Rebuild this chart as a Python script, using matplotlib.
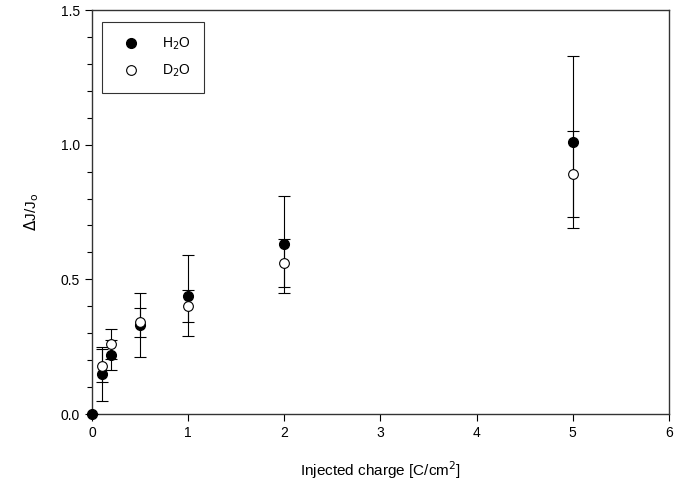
import matplotlib.pyplot as plt
from matplotlib.lines import Line2D
from matplotlib.ticker import MultipleLocator

plt.rcParams['font.family'] = ['Liberation Sans', 'DejaVu Sans']

# charge [C/cm2]
x_h2o = [0, 0.1, 0.2, 0.5, 1, 2, 5]
y_h2o = [0.0, 0.15, 0.22, 0.33, 0.44, 0.63, 1.01]
err_h2o = [0.0, 0.10, 0.055, 0.12, 0.15, 0.18, 0.32]

x_d2o = [0.1, 0.2, 0.5, 1, 2, 5]
y_d2o = [0.18, 0.26, 0.34, 0.40, 0.56, 0.89]
err_d2o = [0.06, 0.055, 0.055, 0.06, 0.09, 0.16]

fig = plt.figure(figsize=(6.85, 4.88), dpi=100)
ax = fig.add_axes([0.1343, 0.1516, 0.8423, 0.8279])

h = ax.errorbar(x_h2o, y_h2o, yerr=err_h2o, fmt='o', color='black', ms=7,
                ecolor='black', elinewidth=0.8, capsize=4, capthick=0.8,
                zorder=3)
d = ax.errorbar(x_d2o, y_d2o, yerr=err_d2o, fmt='o', color='black', ms=7,
                mfc='white', mec='black', mew=0.8, ecolor='black',
                elinewidth=0.8, capsize=4, capthick=0.8, zorder=3)
for art in (h, d):
    art[0].set_clip_on(False)

ax.set_xlim(0, 6)
ax.set_ylim(0, 1.5)
ax.set_xticks(range(7))
ax.set_yticks([0.0, 0.5, 1.0, 1.5])
ax.set_yticklabels(['0.0', '0.5', '1.0', '1.5'])
ax.yaxis.set_minor_locator(MultipleLocator(0.1))
ax.tick_params(which='major', direction='out', length=5, width=0.8, labelsize=10)
ax.tick_params(which='minor', direction='out', length=3.5, width=0.8)
ax.tick_params(top=False, right=False)
for s in ax.spines.values():
    s.set_linewidth(1.0)
    s.set_color('#333333')

ax.set_xlabel('Injected charge [C/cm$^2$]', fontsize=11, labelpad=14)
ax.set_ylabel(r'$\Delta$J/J$_\mathrm{o}$', fontsize=11, labelpad=14)

handles = [
    Line2D([], [], ls='none', marker='o', ms=7, color='black'),
    Line2D([], [], ls='none', marker='o', ms=7, mfc='white', mec='black', mew=0.8),
]
leg = ax.legend(handles, ['H$_2$O', 'D$_2$O'], loc='upper left',
                bbox_to_anchor=(0.005, 0.987), frameon=True, fancybox=False,
                edgecolor='black', fontsize=10, handletextpad=1.1,
                handlelength=2.2, borderpad=1.0, labelspacing=0.75)
leg.get_frame().set_linewidth(0.8)

fig.savefig('out.png', dpi=100)
